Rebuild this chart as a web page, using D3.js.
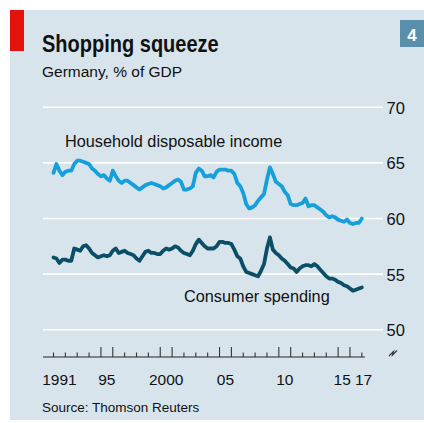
<!DOCTYPE html>
<html>
<head>
<meta charset="utf-8">
<script src="https://cdn.jsdelivr.net/npm/d3@7"></script>
<style>
  html, body { margin: 0; padding: 0; background: #fff; }
  text { font-family: 'Liberation Sans', Arial, sans-serif; fill: #111; }
</style>
</head>
<body>
<div id="chart"></div>
<script>
// quarterly series, 1991 Q1 to 2017 Q1, % of GDP
const startYear = 1991;
const income = [
  64.1, 64.9, 64.3, 63.9, 64.2, 64.3, 64.3, 64.9, 65.2, 65.2, 65.1, 65.0,
  64.9, 64.5, 64.3, 64.0, 63.8, 63.9, 63.6, 63.4, 64.3, 63.8, 63.4, 63.2,
  63.4, 63.4, 63.2, 63.0, 62.8, 62.6, 62.8, 63.0, 63.1, 63.2, 63.1, 63.0,
  62.9, 62.7, 62.8, 63.0, 63.2, 63.4, 63.5, 63.3, 62.6, 62.6, 62.7, 62.9,
  64.1, 64.5, 64.3, 63.8, 63.8, 63.9, 63.7, 64.2, 64.4, 64.4, 64.4, 64.3,
  64.3, 64.0, 63.2, 62.9, 62.3, 61.3, 60.9, 61.0, 61.2, 61.6, 61.9, 62.2,
  63.5, 64.6, 64.0, 63.3, 63.1, 62.9, 62.4, 62.1, 61.3, 61.2, 61.2, 61.3,
  61.4, 61.8, 61.1, 61.2, 61.2, 61.0, 60.8, 60.6, 60.3, 60.1, 60.2, 60.1,
  59.9, 59.8, 59.7, 59.9, 59.6, 59.5, 59.6, 59.6, 60.0
];
const spending = [
  56.5, 56.4, 56.0, 56.3, 56.3, 56.2, 56.2, 57.3, 57.2, 57.1, 57.5, 57.6,
  57.3, 56.9, 56.7, 56.5, 56.6, 56.7, 56.6, 56.7, 57.1, 57.3, 56.9, 57.0,
  57.1, 56.9, 56.8, 56.7, 56.4, 56.2, 56.6, 57.0, 57.1, 56.9, 56.9, 56.8,
  56.8, 57.1, 57.3, 57.2, 57.3, 57.5, 57.4, 57.1, 56.9, 56.8, 56.7, 57.1,
  57.7, 58.1, 57.8, 57.5, 57.3, 57.3, 57.3, 57.5, 57.9, 57.9, 57.8, 57.8,
  57.7, 57.2, 56.6, 56.4, 55.7, 55.2, 55.1, 55.0, 54.9, 54.8, 55.3, 55.9,
  57.3, 58.3, 57.2, 56.9, 56.7, 56.4, 56.2, 55.9, 55.6, 55.5, 55.2, 55.5,
  55.7, 55.8, 55.8, 55.7, 55.9, 55.7, 55.4, 55.1, 54.8, 54.6, 54.6, 54.5,
  54.3, 54.2, 54.0, 53.9, 53.7, 53.5, 53.6, 53.7, 53.8
];
const yTicks = [50, 55, 60, 65, 70];
const tickYears = d3.range(1991, 2018);
const longTickYears = [1995, 1996, 2000, 2001, 2005, 2006, 2010, 2011, 2015, 2016];
const labelYears = [1991, 1995, 2000, 2005, 2010, 2015, 2017];
const labelText = ['1991', '95', '2000', '05', '10', '15', '17'];

const width = 424;
const height = 423;

const svg = d3.select('#chart')
  .append('svg')
  .attr('width', width)
  .attr('height', height);

// panel background, red tag, chart number
svg.append('rect')
  .attr('x', 10).attr('y', 10)
  .attr('width', width - 10).attr('height', 410)
  .attr('fill', '#d8e4ec');

svg.append('rect')
  .attr('x', 10).attr('y', 10)
  .attr('width', 14).attr('height', 41)
  .attr('fill', '#e3120b');

svg.append('rect')
  .attr('x', 400).attr('y', 20)
  .attr('width', 24).attr('height', 27)
  .attr('fill', '#5a8fab');

svg.append('text')
  .attr('x', 412).attr('y', 41)
  .attr('text-anchor', 'middle')
  .style('fill', '#fff')
  .style('font-weight', 'bold')
  .style('font-size', '17px')
  .text('4');

// no narrow face installed, so squeeze the bold title horizontally
svg.append('text')
  .attr('transform', 'translate(42,52) scale(0.87,1)')
  .style('font-weight', 'bold')
  .style('font-size', '23px')
  .text('Shopping squeeze');

svg.append('text')
  .attr('x', 42).attr('y', 77)
  .style('font-size', '15.5px')
  .text('Germany, % of GDP');

const x = d3.scaleLinear()
  .domain([1990.115, 2017.25])
  .range([43, 364.8]);

const y = d3.scaleLinear()
  .domain([50, 70])
  .range([329.7, 107.3]);

// gridlines + right-hand labels
const grid = svg.append('g').attr('class', 'grid');

grid.selectAll('line')
  .data(yTicks)
  .enter().append('line')
    .attr('x1', x.range()[0])
    .attr('x2', 383)
    .attr('y1', d => y(d))
    .attr('y2', d => y(d))
    .style('stroke', '#fff')
    .style('stroke-width', 1.6);

grid.selectAll('text')
  .data(yTicks)
  .enter().append('text')
    .attr('x', 386.5)
    .attr('y', d => y(d) + 6.5)
    .style('font-size', '16.5px')
    .text(d => d);

// lines
const line = d3.line()
  .x((d, i) => x(startYear + i / 4))
  .y(d => y(d))
  .curve(d3.curveLinear);

svg.append('path')
  .datum(income)
  .attr('d', line)
  .style('fill', 'none')
  .style('stroke', '#16a0db')
  .style('stroke-width', 3.8)
  .style('stroke-linejoin', 'round')
  .style('stroke-linecap', 'round');

svg.append('path')
  .datum(spending)
  .attr('d', line)
  .style('fill', 'none')
  .style('stroke', '#0b4f67')
  .style('stroke-width', 3.8)
  .style('stroke-linejoin', 'round')
  .style('stroke-linecap', 'round');

svg.append('text')
  .attr('x', 65).attr('y', 147)
  .style('font-size', '16.3px')
  .text('Household disposable income');

svg.append('text')
  .attr('x', 184).attr('y', 302)
  .style('font-size', '16.3px')
  .text('Consumer spending');

// x axis: year boundary ticks, labels centred on the year
const axisY = 357;
const xAxis = svg.append('g').attr('class', 'x-axis');

xAxis.append('line')
  .attr('x1', x.range()[0])
  .attr('x2', x.range()[1])
  .attr('y1', axisY).attr('y2', axisY)
  .style('stroke', '#222')
  .style('stroke-width', 1.2);

xAxis.selectAll('.tick')
  .data(tickYears)
  .enter().append('line')
    .attr('class', 'tick')
    .attr('x1', d => x(d))
    .attr('x2', d => x(d))
    .attr('y1', d => longTickYears.includes(d) ? axisY - 10 : axisY - 4.5)
    .attr('y2', axisY)
    .style('stroke', '#333')
    .style('stroke-width', 1.1);

xAxis.selectAll('.label')
  .data(labelYears)
  .enter().append('text')
    .attr('class', 'label')
    .attr('x', d => {
      if (d === 2017) return x(d) + 1.8;
      if (d === 2015) return x(d + 0.5) - 1.8;
      return x(d + 0.5);
    })
    .attr('y', 385)
    .attr('text-anchor', 'middle')
    .style('font-size', '15.5px')
    .text((d, i) => labelText[i]);

// axis break mark
svg.append('path')
  .attr('d', 'M389,356 L393.5,351.5 L392.5,355 L397,350.5')
  .style('fill', 'none')
  .style('stroke', '#333')
  .style('stroke-width', 1.1);

svg.append('text')
  .attr('x', 42).attr('y', 411.5)
  .style('font-size', '13.5px')
  .text('Source: Thomson Reuters');
</script>
</body>
</html>
